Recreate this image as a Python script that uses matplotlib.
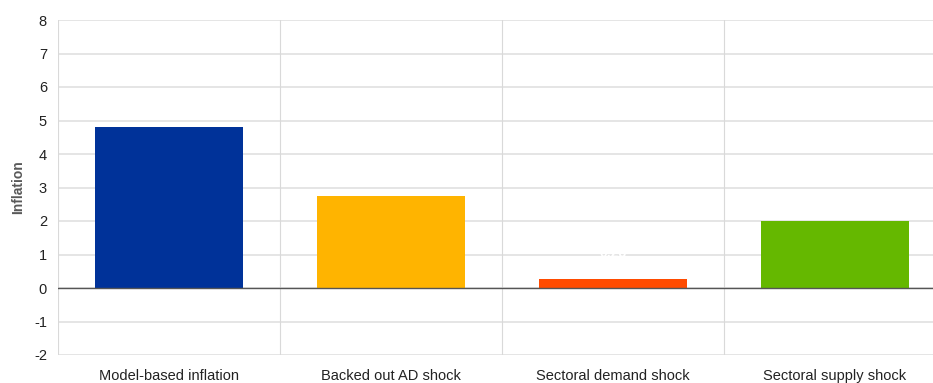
import matplotlib.pyplot as plt
import numpy as np

plt.rcParams['font.family'] = ['Liberation Sans', 'DejaVu Sans']
plt.rcParams['axes.unicode_minus'] = False

categories = ['Model-based inflation', 'Backed out AD shock',
              'Sectoral demand shock', 'Sectoral supply shock']
values = [4.8, 2.75, 0.28, 2.0]
colors = ['#003299', '#FFB400', '#FF4B00', '#65B800']
yticks = list(range(-2, 9))

fig = plt.figure(figsize=(9.33, 3.83), dpi=100)
ax = fig.add_axes([58/933, 1 - 355/383, 888/933, 335/383])

x = np.arange(len(categories))
ax.bar(x, values, width=0.67, color=colors, zorder=3)

# faint data label on the small bar (white, as in the source)
ax.text(x[2], values[2] + 0.75, f'{values[2]:.2f}', color='white',
        fontsize=10, fontweight='bold', ha='center', va='center', zorder=4)

ax.set_xlim(-0.5, len(categories) - 0.5)
ax.set_ylim(-2, 8)
ax.set_yticks(yticks)
ax.set_xticks(x)
ax.set_xticklabels(categories)
ax.tick_params(axis='both', length=0, labelsize=10.5, colors='#222222')
ax.tick_params(axis='x', pad=10)
ax.tick_params(axis='y', pad=8)

for y in yticks:
    ax.axhline(y, color='#e3e3e3', lw=1.3, zorder=1)
for b in np.arange(0.5, len(categories) - 0.5, 1):
    ax.axvline(b, color='#d9d9d9', lw=0.8, zorder=1)
ax.axvline(-0.5, color='#d9d9d9', lw=0.8, zorder=1)
ax.axhline(0, color='#555555', lw=1.0, zorder=4)

for s in ax.spines.values():
    s.set_visible(False)

ax.set_ylabel('Inflation', fontsize=10, fontweight='bold', color='#595959', labelpad=6)

fig.savefig('out.png', dpi=100)
